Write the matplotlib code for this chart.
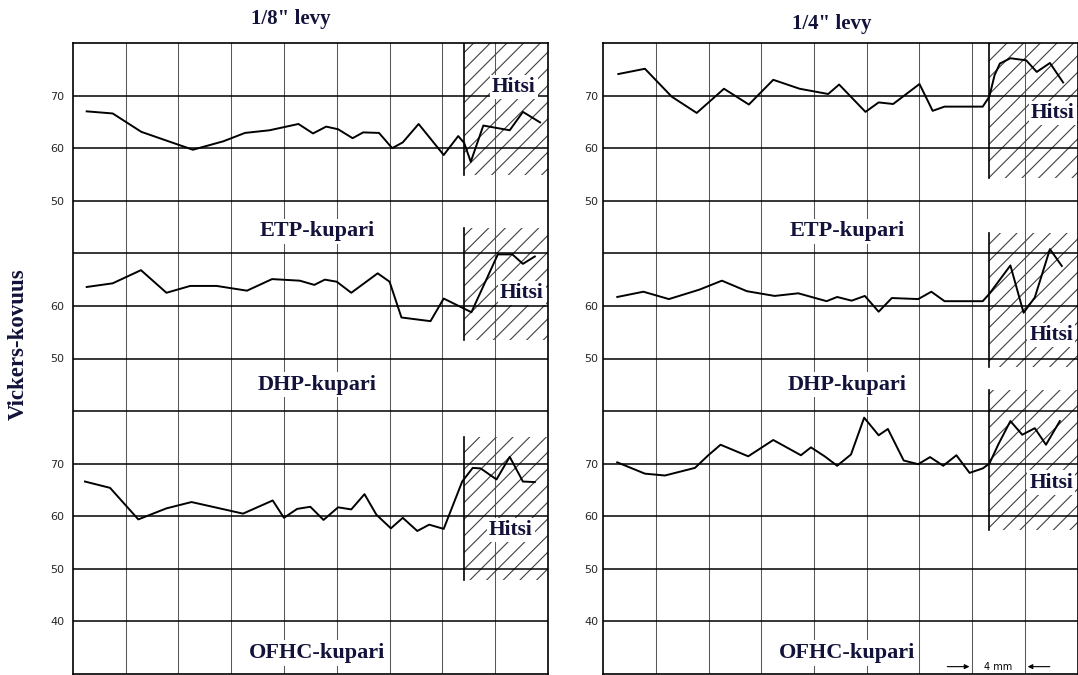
import numpy as np
import matplotlib.pyplot as plt
from matplotlib.patches import Rectangle

plt.rcParams['hatch.color'] = '0.25'
plt.rcParams['hatch.linewidth'] = 0.8

# Kovuusprofiilit: x = etäisyys (mm), hv = Vickers-kovuus
# 1/8" levy
etp8_x = [1.06, 3.03, 5.2, 9.1, 11.4, 13.05, 14.9, 17.1, 18.2, 19.2, 20.1, 21.2, 22.0,
          23.2, 24.2, 25.0, 26.2, 28.1, 29.2, 29.65, 30.15, 31.1, 33.1, 34.1, 35.4]
etp8_hv = [67.0, 66.6, 63.1, 59.7, 61.3, 62.9, 63.4, 64.6, 62.8, 64.1, 63.6, 61.9, 63.0,
           62.9, 60.0, 61.1, 64.6, 58.7, 62.3, 61.0, 57.4, 64.3, 63.4, 66.9, 64.9]
dhp8_x = [1.06, 3.03, 5.17, 7.1, 8.9, 10.9, 13.2, 15.1, 17.2, 18.3, 19.1, 20.0, 21.1,
          23.1, 24.0, 24.9, 27.1, 28.1, 30.2, 32.2, 33.3, 34.1, 35.0]
dhp8_hv = [63.6, 64.3, 66.8, 62.5, 63.8, 63.8, 62.9, 65.1, 64.8, 64.0, 65.0, 64.6, 62.5,
           66.2, 64.6, 57.8, 57.1, 61.4, 58.8, 69.8, 69.8, 68.0, 69.4]
ofhc8_x = [0.93, 2.83, 4.97, 7.1, 9.0, 12.9, 15.15, 16.0, 17.0, 18.0, 19.0, 20.1, 21.1,
           22.1, 23.0, 24.1, 25.0, 26.1, 27.0, 28.1, 29.5, 30.3, 30.9, 32.1, 33.1, 34.1, 35.0]
ofhc8_hv = [66.6, 65.4, 59.4, 61.5, 62.7, 60.5, 63.0, 59.7, 61.4, 61.8, 59.3, 61.7, 61.3,
            64.2, 60.3, 57.7, 59.7, 57.2, 58.4, 57.6, 66.6, 69.2, 69.1, 67.0, 71.3, 66.6, 66.5]

# 1/4" levy
etp4_x = [1.14, 3.16, 5.19, 7.09, 9.16, 11.05, 12.9, 14.9, 17.07, 17.9, 19.9, 20.9, 22.0,
          24.0, 25.0, 25.9, 28.8, 29.3, 29.7, 30.1, 30.9, 32.1, 32.9, 33.9, 34.9]
etp4_hv = [74.1, 75.1, 69.8, 66.7, 71.3, 68.3, 73.0, 71.3, 70.3, 72.1, 66.9, 68.7, 68.4,
           72.2, 67.1, 67.9, 67.9, 69.8, 73.9, 76.1, 77.1, 76.7, 74.5, 76.2, 72.5]
dhp4_x = [1.06, 3.04, 4.98, 7.3, 9.0, 10.9, 13.0, 14.8, 16.95, 17.75, 18.85, 19.85, 20.9,
          21.9, 23.9, 24.9, 25.9, 28.8, 29.3, 30.9, 31.9, 32.75, 33.9, 34.8]
dhp4_hv = [61.7, 62.7, 61.3, 63.1, 64.8, 62.8, 61.9, 62.4, 60.9, 61.7, 61.0, 61.9, 58.9,
           61.5, 61.3, 62.7, 60.9, 60.9, 62.3, 67.7, 58.7, 61.6, 70.8, 67.6]
ofhc4_x = [1.06, 3.16, 4.68, 6.96, 7.97, 8.9, 11.0, 12.9, 15.0, 15.76, 16.8, 17.75, 18.8,
           19.8, 20.9, 21.6, 22.8, 23.9, 24.8, 25.8, 26.8, 27.8, 28.8, 29.3, 30.0, 30.9,
           31.8, 32.75, 33.6, 34.65]
ofhc4_hv = [70.25, 68.1, 67.75, 69.2, 71.6, 73.6, 71.4, 74.5, 71.6, 73.1, 71.4, 69.6, 71.75,
            78.75, 75.4, 76.6, 70.6, 69.9, 71.25, 69.6, 71.6, 68.25, 69.1, 70.0, 73.75, 78.1,
            75.5, 76.75, 73.6, 78.1]

materials = ['ETP-kupari', 'DHP-kupari', 'OFHC-kupari']
tick_vals = [[70, 60, 50], [60, 50], [70, 60, 50, 40]]
titles = ['1/8" levy', '1/4" levy']

# hitsialue: alku (mm) ja (ylä, ala) HV per materiaali
weld8_start = 29.6
weld8_zones = [(80, 54.9), (74.8, 53.5), (75.1, 47.9)]
weld4_start = 29.3
weld4_zones = [(80, 54.3), (73.9, 48.4), (84.0, 57.4)]

# pystysiirto kullekin materiaalille samassa ruudukossa
offsets = [0, -30, -70]

W, H = 1078, 675
fig = plt.figure(figsize=(W / 100, H / 100), dpi=100)
INK = '#12123a'
SERIF = 'Liberation Serif'


def px_axes(x0, x1, y0, y1):
    return fig.add_axes([x0 / W, 1 - y1 / H, (x1 - x0) / W, (y1 - y0) / H])


def draw_panel(ax, curves, weld_start, weld_zones, hitsi_pos, tick_pad):
    ax.set_xlim(0, 36)
    ax.set_ylim(-40, 80)
    for v in range(-30, 80, 10):
        ax.axhline(v, color='k', lw=1.1, zorder=2)
    for x in range(4, 36, 4):
        ax.axvline(x, color='0.35', lw=0.75, zorder=1)

    for (top, bot), off in zip(weld_zones, offsets):
        ax.add_patch(Rectangle((weld_start, bot + off), 36 - weld_start, top - bot,
                               fill=False, hatch='//', edgecolor='0.25', lw=0, zorder=1.5))
        ax.plot([weld_start, weld_start], [bot + off, top + off], color='k', lw=1.2, zorder=3)

    for (cx, cy), off in zip(curves, offsets):
        ax.plot(cx, np.array(cy) + off, color='k', lw=1.4, zorder=4)

    for name, y in zip(materials, [44.2, 15.0, -36.0]):
        ax.text(18.5, y, name, ha='center', va='center', fontsize=16, fontweight='bold',
                family=SERIF, color=INK, zorder=5,
                bbox=dict(facecolor='white', edgecolor='none', pad=2))
    for hx, hy in hitsi_pos:
        ax.text(hx, hy, 'Hitsi', ha='center', va='center', fontsize=15.5, fontweight='bold',
                family=SERIF, color=INK, zorder=5,
                bbox=dict(facecolor='white', edgecolor='none', pad=1.5))

    ticks, labels = [], []
    for vals, off in zip(tick_vals, offsets):
        for v in vals:
            ticks.append(v + off)
            labels.append(str(v))
    ax.set_yticks(ticks)
    ax.set_yticklabels(labels, fontsize=8, color='0.15')
    ax.tick_params(axis='y', length=0, pad=tick_pad)
    ax.set_xticks([])
    for s in ax.spines.values():
        s.set_linewidth(1.2)


ax_l = px_axes(72.7, 548, 43, 674)
ax_r = px_axes(603.3, 1077.6, 43, 674)

draw_panel(ax_l, [(etp8_x, etp8_hv), (dhp8_x, dhp8_hv), (ofhc8_x, ofhc8_hv)],
           weld8_start, weld8_zones,
           [(33.4, 71.6), (34.0, 32.5), (33.2, -12.6)], tick_pad=6)
draw_panel(ax_r, [(etp4_x, etp4_hv), (dhp4_x, dhp4_hv), (ofhc4_x, ofhc4_hv)],
           weld4_start, weld4_zones,
           [(34.1, 66.7), (34.0, 24.5), (34.0, -3.6)], tick_pad=3.5)

# 4 mm mittakaava
ax_r.text(30, -38.6, '4 mm', ha='center', va='center', fontsize=7, color='k', zorder=6)
ax_r.annotate('', xy=(28, -38.6), xytext=(25.9, -38.6),
              arrowprops=dict(arrowstyle='-|>', lw=0.8, color='k', mutation_scale=7))
ax_r.annotate('', xy=(32, -38.6), xytext=(34.1, -38.6),
              arrowprops=dict(arrowstyle='-|>', lw=0.8, color='k', mutation_scale=7))

fig.text(291 / W, 1 - 19 / H, titles[0], ha='center', va='center', fontsize=15,
         fontweight='bold', family=SERIF, color=INK)
fig.text(832 / W, 1 - 24 / H, titles[1], ha='center', va='center', fontsize=15,
         fontweight='bold', family=SERIF, color=INK)
fig.text(18 / W, 1 - 344 / H, 'Vickers-kovuus', ha='center', va='center', rotation=90,
         fontsize=16.5, fontweight='bold', family=SERIF, color=INK)

fig.savefig('out.png', dpi=100)
